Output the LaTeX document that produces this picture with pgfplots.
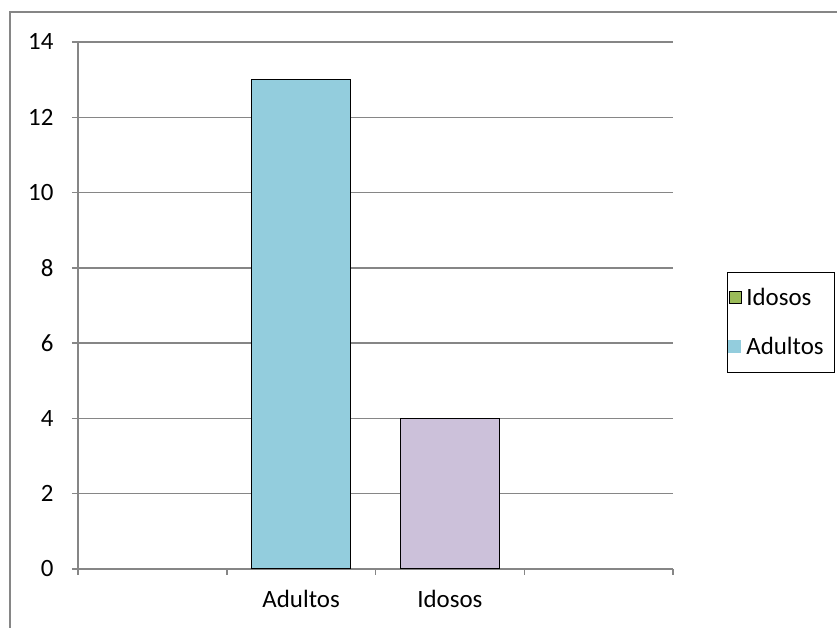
\documentclass[border=0pt]{standalone}
\usepackage{pgfplots}
\pgfplotsset{compat=1.18}
\usepackage{fontspec}
\setmainfont{Carlito}
\definecolor{aqua}{HTML}{93CDDD}
\definecolor{lav}{HTML}{CCC1DA}
\definecolor{olive}{HTML}{9BBB59}
\definecolor{gridc}{HTML}{868686}
\begin{document}
\begin{tikzpicture}[x=1bp,y=1bp]
\path[use as bounding box] (0,0) rectangle (837,628);
\draw[gridc, line width=1.5bp] (10,0) -- (10,616) -- (837,616);
\begin{axis}[
  at={(78bp,59bp)}, anchor=south west,
  scale only axis, width=595bp, height=527bp,
  xmin=0, xmax=4, ymin=0, ymax=14,
  ytick={0,2,...,14},
  minor ytick={0,2,...,14},
  xtick={1.5,2.5}, xticklabels={Adultos,Idosos},
  minor xtick={0,1,2,3,4},
  xticklabel style={yshift=-18bp},
  axis lines*=left,
  xtick pos=bottom, ytick pos=left,
  axis line style={gridc, line width=1.5bp, -},
  ymajorgrids, grid style={gridc, line width=1.5bp},
  x tick style={gridc, line width=1.5bp},
  y tick style={gridc, line width=1.5bp},
  major tick length=0pt,
  minor tick length=6bp,
  tick align=outside,
  ticklabel style={font=\fontsize{25}{30}\selectfont, black},
  yticklabel style={xshift=-21bp},
  ybar, bar width=99bp, bar shift=0pt,
  /pgf/number format/assume math mode=true,
  legend style={at={(1.0908,0.5636)}, anchor=north west, draw=black, line width=0.9bp,
    font=\fontsize{25}{30}\selectfont, row sep=26bp, inner xsep=1bp, inner ysep=14bp,
    /tikz/every odd column/.append style={column sep=0pt}},
  legend cell align=left,
]
\addplot[fill=aqua, draw=black, line width=1.3bp, forget plot] coordinates {(1.5,13)};
\addplot[fill=lav, draw=black, line width=1.3bp, forget plot] coordinates {(2.5,4)};
\addlegendimage{legend image code/.code={\draw[fill=olive, draw=black, line width=0.8bp] (0bp,-6bp) rectangle (12bp,6bp); \path (15bp,0);}}
\addlegendentry{Idosos}
\addlegendimage{legend image code/.code={\fill[aqua] (0bp,-6bp) rectangle (12bp,6bp); \path (15bp,0);}}
\addlegendentry{Adultos\rule{8bp}{0pt}}
\end{axis}
\end{tikzpicture}
\end{document}
